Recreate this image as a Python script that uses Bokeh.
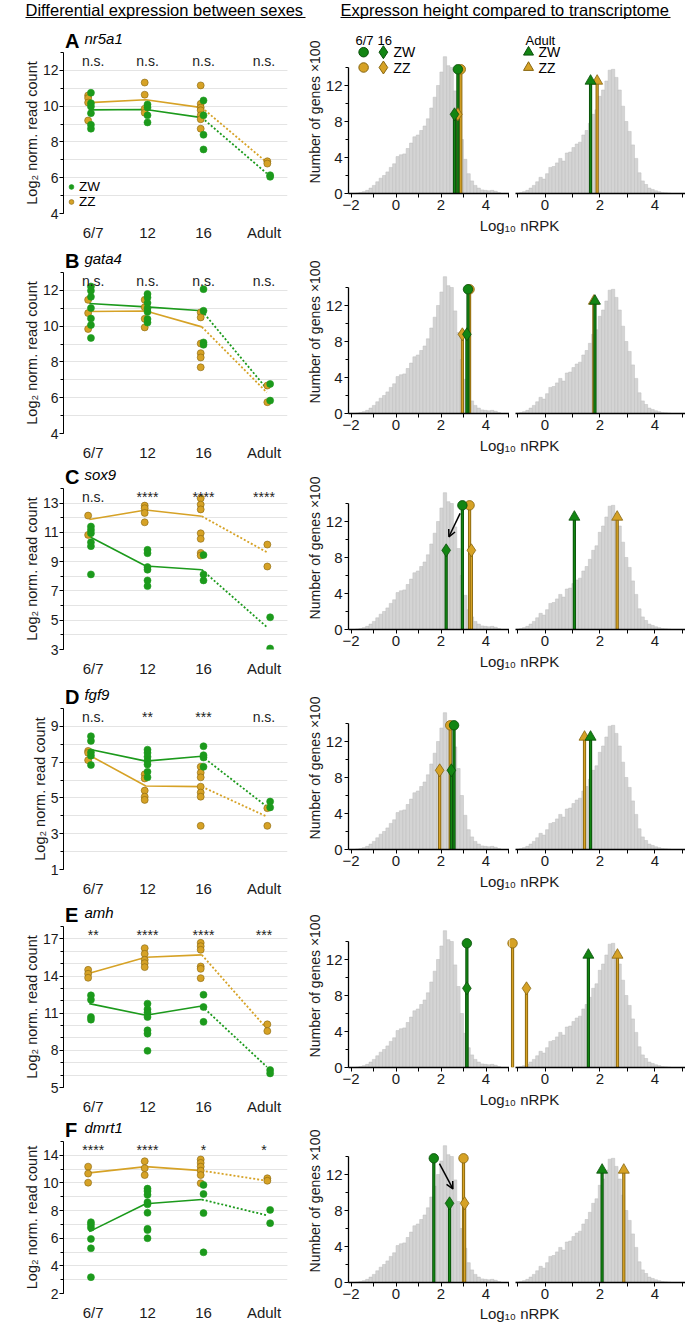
from bokeh.plotting import figure
from bokeh.layouts import row, column
from bokeh.models import FixedTicker, Label, Range1d, Legend, LegendItem, Arrow, OpenHead
from bokeh.core.properties import value
from bokeh.embed import file_html
from bokeh.resources import INLINE

FONT = "Liberation Sans"

# ---------------- data ----------------
stages = ["6/7", "12", "16", "Adult"]
genes = ["nr5a1", "gata4", "sox9", "fgf9", "amh", "dmrt1"]
letters = ["A", "B", "C", "D", "E", "F"]

nr5a1_ZW = [[10.75, 10.17, 9.98, 9.61, 8.96, 8.74], [10.1, 9.92, 9.49, 9.09], [10.32, 9.49, 8.4, 7.58], [6.14, 6.05]]
nr5a1_ZZ = [[10.6, 10.45, 10.2, 9.2], [11.32, 10.64, 9.86, 9.63], [11.16, 10.13, 9.92, 9.77, 9.49, 9.27, 8.74], [6.92, 6.79]]
nr5a1_ZW_mean = [9.79, 9.81, 9.36, 6.24]
nr5a1_ZZ_mean = [10.2, 10.36, 9.92, 6.86]
nr5a1_sig = ["n.s.", "n.s.", "n.s.", "n.s."]

gata4_ZW = [[12.22, 11.98, 11.64, 11.01, 10.43, 10.06, 9.34], [11.8, 11.6, 11.3, 11.0, 10.8, 10.4, 10.2], [12.07, 10.86, 9.09, 8.96], [6.77, 5.84]]
gata4_ZZ = [[11.47, 10.73, 9.84], [11.47, 11.06, 10.41, 9.93], [10.77, 10.49, 9.03, 8.49, 8.25, 7.7], [6.68, 5.75]]
gata4_ZW_mean = [11.27, 11.08, 10.86, 6.5]
gata4_ZZ_mean = [10.82, 10.85, 9.96, 6.3]
gata4_sig = ["n.s.", "n.s.", "n.s.", "n.s."]

sox9_ZW = [[11.4, 11.17, 10.94, 10.33, 10.06, 8.13], [9.81, 9.58, 8.63, 8.45, 7.72, 7.33], [9.46, 8.13, 7.72], [5.2, 3.07]]
sox9_ZZ = [[12.15, 10.83], [12.83, 12.65, 12.33, 11.69], [13.33, 12.9, 12.57, 10.94, 10.56, 9.6, 9.42], [10.17, 8.67]]
sox9_ZW_mean = [10.72, 8.70, 8.45, 4.54]
sox9_ZZ_mean = [11.88, 12.53, 12.1, 9.65]
sox9_sig = ["n.s.", "****", "****", "****"]

fgf9_ZW = [[8.45, 8.19, 7.55, 7.36, 6.84], [7.70, 7.52, 7.30, 7.08, 6.87, 6.46, 6.15], [7.89, 7.39, 7.26, 6.74], [4.8, 4.47]]
fgf9_ZZ = [[7.63, 7.52, 7.11], [6.32, 6.09, 5.41, 5.07, 4.89], [6.74, 6.41, 6.15, 5.63, 5.3, 5.07, 3.44], [4.43, 3.44]]
fgf9_ZW_mean = [7.72, 7.06, 7.33, 4.52]
fgf9_ZZ_mean = [7.39, 5.67, 5.63, 3.96]
fgf9_sig = ["n.s.", "**", "***", "n.s."]

amh_ZW = [[12.44, 12.09, 10.69, 10.48], [11.77, 11.32, 11.05, 10.69, 9.62, 9.35, 7.96], [12.49, 11.5, 10.3], [6.41, 6.14]]
amh_ZZ = [[14.5, 14.18, 13.86], [16.25, 15.79, 15.31, 15.04, 14.72], [16.68, 16.41, 16.12, 14.77, 14.58, 13.83], [10.1, 9.56]]
amh_ZW_mean = [11.77, 10.83, 11.58, 6.67]
amh_ZZ_mean = [14.23, 15.52, 15.71, 9.76]
amh_sig = ["**", "****", "****", "***"]

dmrt1_ZW = [[7.16, 6.98, 6.75, 5.95, 5.27, 3.18], [9.59, 9.41, 9.14, 8.61, 8.45, 7.84, 6.68, 6.59, 6.0], [9.86, 9.2, 7.82, 4.98], [8.05, 7.09]]
dmrt1_ZZ = [[11.18, 10.68, 10.02], [11.57, 11.07, 10.57], [11.7, 11.45, 11.18, 10.89, 10.57, 9.98], [10.34, 10.16]]
dmrt1_ZW_mean = [6.48, 8.5, 8.8, 7.66]
dmrt1_ZZ_mean = [10.73, 11.18, 10.89, 10.16]
dmrt1_sig = ["****", "****", "*", "*"]

# y-axis ranges and labelled ticks of the left panels
y_lo = [4, 4, 3, 1, 5, 2]
y_hi = [13, 13, 14, 10, 18, 13]
y_major = [[4, 6, 8, 10, 12], [4, 6, 8, 10, 12], [3, 5, 7, 9, 11, 13], [1, 3, 5, 7, 9], [5, 8, 11, 14, 17], [2, 4, 6, 8, 10, 12]]
y_overrides = [{}, {}, {}, {}, {}, {12: "14"}]

# transcriptome histograms (log10 nRPK, genes x100)
mid_bin_start = -1.8
mid_bin_width = 0.15
mid_counts = [0.05, 0.1, 0.2, 0.35, 0.6, 0.9, 1.3, 1.7, 2.0, 2.4, 2.9, 3.3, 4.1, 4.3, 4.4,
              5.0, 5.6, 6.3, 6.5, 7.0, 7.5, 8.3, 9.5, 10.7, 12.0, 13.5, 15.2, 14.2, 14.0, 11.4,
              9.0, 6.0, 3.8, 2.2, 1.4, 0.9, 0.6, 0.4, 0.35, 0.3, 0.35, 0.25, 0.1]
adult_bin_start = -1.06
adult_bin_width = 0.12
adult_counts = [0.05, 0.1, 0.2, 0.35, 0.6, 0.9, 1.3, 1.8, 1.6, 2.2, 2.9, 3.0, 3.4, 3.9, 3.6,
                4.5, 4.6, 5.1, 5.5, 5.7, 6.5, 7.0, 7.8, 8.8, 9.3, 10.8, 11.5, 12.5, 13.7, 13.8,
                12.9, 11.5, 9.7, 8.0, 6.9, 5.4, 3.9, 2.3, 1.4, 1.0, 0.6, 0.45, 0.3, 0.2, 0.1, 0.07, 0.05]

# gene expression (log10 nRPK) per gene, order A..F
lolli_67_ZW = [2.75, 3.2, 2.95, 2.58, 3.15, 1.68]
lolli_67_ZZ = [2.88, 3.27, 3.27, 2.41, 5.18, 3.0]
lolli_16_ZW = [2.6, 3.15, 2.23, 2.46, 3.15, 2.38]
lolli_16_ZZ = [2.75, 2.95, 3.35, 1.94, 5.8, 3.05]
lolli_ad_ZW = [1.66, 1.82, 1.07, 1.66, 1.58, 2.08]
lolli_ad_ZZ = [1.9, 1.78, 2.63, 1.44, 2.64, 2.87]
# arrows (from 6/7 to 16 ZW): x0, y0, x1, y1 ; None if absent
arrows = [None, None, (2.85, 12.9, 2.35, 10.3), None, None, (1.93, 13.2, 2.53, 10.4)]

# ---------------- style / layout ----------------
GREEN = "#1c9a1c"
GREEN_L = "#138513"
GREEN_D = "#0a4f0a"
GOLD = "#d6a226"
GOLD_D = "#86650f"
GRID = "#e4e4e4"
HIST_FILL = "#d4d4d4"
HIST_LINE = "#bcbcbc"
TXT = "#1a1a1a"

H_CIRC, H_DIAM, H_TRI = 13.8, 8.8, 12.5

PAGE_H = 1323
ROW_T = [30, 250, 466, 686, 904, 1119]
ROW_H = [ROW_T[k + 1] - ROW_T[k] for k in range(5)] + [PAGE_H - ROW_T[5]]
LBL_PRE = 2          # letter strip starts this far above the row top
LBL_H = 22 + LBL_PRE
HDR_H = ROW_T[0] - LBL_PRE
LEFT_FH = [161, 161, 161, 161, 161, 154]
HIST_H = [186, 186, 186, 186, 186, 185]
HIST_FH = [163, 163, 163, 163, 163, 163]

stage_x = [0.46, 1.47, 2.47, 3.66]
tick_x = [0.53, 1.5, 2.5, 3.58]
ZZ_OFF, ZW_OFF = -0.02, 0.03

LEFT_W = 300
MID_PX = 22.5      # px per unit
MID_X0 = -47.5 / MID_PX
MID_X1 = 113.5 / MID_PX
MID_W = 209
R_W = 176
R_PX = 27.45
R_X0 = -35.5 / R_PX
R_X1 = 140.5 / R_PX
TOTAL_W = LEFT_W + MID_W + R_W


def base(p):
    p.outline_line_color = None
    p.background_fill_color = "white"
    p.border_fill_color = "white"


def blank(w, h, xr, yr):
    p = figure(width=w, height=h, x_range=xr, y_range=yr, x_axis_location=None,
               y_axis_location=None, min_border=0, toolbar_location=None, title=None,
               output_backend="svg")
    base(p)
    p.grid.visible = False
    return p


def left_panel(i, zw, zz, zw_m, zz_m, sig):
    if i < 5:
        PH = ROW_H[i] - LBL_H
    else:
        PH = ROW_H[i] - 22
    fh = LEFT_FH[i]
    p = figure(width=LEFT_W, height=PH, x_range=Range1d(0, 4), y_range=Range1d(y_lo[i], y_hi[i]),
               min_border_left=63, min_border_right=13, min_border_top=0,
               min_border_bottom=PH - fh, toolbar_location=None, title=None,
               output_backend="svg")
    base(p)
    minors = list(range(y_lo[i], y_hi[i] + 1))
    tk = FixedTicker(ticks=y_major[i], minor_ticks=minors)
    ax = p.yaxis[0]
    ax.ticker = tk
    p.ygrid.ticker = tk
    ax.major_label_overrides = y_overrides[i]
    ax.axis_label = "Log₂ norm. read count"
    ax.axis_label_text_font = FONT
    ax.axis_label_text_font_size = "14.5px"
    ax.axis_label_text_font_style = "normal"
    ax.axis_label_text_color = TXT
    ax.axis_label_standoff = 0
    ax.major_label_text_font = FONT
    ax.major_label_text_font_size = "14px"
    ax.major_label_text_color = TXT
    ax.major_label_standoff = 1
    ax.major_tick_out, ax.major_tick_in = 4, 0
    ax.minor_tick_out, ax.minor_tick_in = 3, 0
    ax.axis_line_color = "black"
    p.ygrid.grid_line_color = GRID
    p.ygrid.minor_grid_line_color = GRID
    p.xgrid.grid_line_color = None

    xa = p.xaxis[0]
    xa.ticker = FixedTicker(ticks=tick_x)
    xa.major_label_overrides = {tick_x[k]: stages[k] for k in range(4)}
    xa.axis_line_color = None
    xa.major_tick_line_color = None
    xa.minor_tick_line_color = None
    xa.major_label_text_font = FONT
    xa.major_label_text_font_size = "15px"
    xa.major_label_text_color = TXT
    xa.major_label_standoff = 4

    # mean lines
    end_x = stage_x[3] - 0.03
    for m, col in ((zz_m, GOLD), (zw_m, GREEN)):
        p.line(stage_x[:3], m[:3], line_color=col, line_width=1.6)
        p.line([stage_x[2], end_x], [m[2], m[3]], line_color=col, line_width=1.8, line_dash="2 2")

    def pts(groups, off):
        xs, ys = [], []
        for k, g in enumerate(groups):
            for v in g:
                xs.append(stage_x[k] + off)
                ys.append(v)
        return xs, ys

    x1, y1 = pts(zz, ZZ_OFF)
    r_zz = p.scatter(x1, y1, size=7, fill_color=GOLD, line_color=GOLD_D, line_width=0.6)
    x2, y2 = pts(zw, ZW_OFF)
    r_zw = p.scatter(x2, y2, size=7, fill_color=GREEN, line_color=GREEN, line_width=0.6)

    for k in range(4):
        p.add_layout(Label(x=tick_x[k], y=y_hi[i], y_offset=-8, x_units="data", y_units="data",
                           text=sig[k], text_align="center", text_baseline="middle",
                           text_font=FONT, text_font_size="14px", text_color="#222222"))
    if i == 0:
        leg = Legend(items=[LegendItem(label="ZW", renderers=[r_zw]),
                            LegendItem(label="ZZ", renderers=[r_zz])],
                     location=(2, 4), orientation="vertical", padding=0, spacing=0,
                     margin=0, glyph_width=12, glyph_height=13, label_standoff=2,
                     label_text_font=FONT, label_text_font_size="13.5px",
                     label_text_color="black",
                     background_fill_alpha=0, border_line_alpha=0)
        p.add_layout(leg)

    lb = blank(LEFT_W, LBL_H, Range1d(0, LEFT_W), Range1d(LBL_H, 0))
    lb.text(x=[2], y=[1.5], text=[letters[i]], text_font=value(FONT), text_font_size="20px",
            text_font_style="bold", text_baseline="top", text_color="black")
    lb.text(x=[28], y=[1.0], text=[genes[i]], text_font=value(FONT), text_font_size="15px",
            text_font_style="italic", text_baseline="top", text_color="black")
    return [lb, p]


def hist_axis_style(ax):
    ax.axis_line_color = "black"
    ax.axis_line_width = 1.3
    ax.major_tick_line_color = "black"
    ax.minor_tick_line_color = "black"
    ax.major_tick_out, ax.major_tick_in = 4, 0
    ax.minor_tick_out, ax.minor_tick_in = 3, 0
    ax.major_label_text_font = FONT
    ax.major_label_text_font_size = "15px"
    ax.major_label_text_color = TXT
    ax.major_label_standoff = 2


def draw_mid_lollis(p, i, **kw):
    segs = [(lolli_67_ZZ[i], H_CIRC, GOLD, GOLD_D), (lolli_16_ZZ[i], H_DIAM, GOLD, GOLD_D),
            (lolli_67_ZW[i], H_CIRC, GREEN_L, GREEN_D), (lolli_16_ZW[i], H_DIAM, GREEN_L, GREEN_D)]
    for x, h, c, d in segs:
        p.segment(x0=[x], y0=[0], x1=[x], y1=[h], line_color=d, line_width=3.2, **kw)
        p.segment(x0=[x], y0=[0], x1=[x], y1=[h], line_color=c, line_width=1.4, **kw)
    p.scatter([lolli_16_ZZ[i]], [H_DIAM], marker="diamond", size=13, fill_color=GOLD, line_color=GOLD_D, line_width=0.8, **kw)
    p.scatter([lolli_16_ZW[i]], [H_DIAM], marker="diamond", size=13, fill_color=GREEN_L, line_color=GREEN_D, line_width=0.8, **kw)
    p.scatter([lolli_67_ZZ[i]], [H_CIRC], marker="circle", size=9.5, fill_color=GOLD, line_color=GOLD_D, line_width=0.8, **kw)
    p.scatter([lolli_67_ZW[i]], [H_CIRC], marker="circle", size=9.5, fill_color=GREEN_L, line_color=GREEN_D, line_width=0.8, **kw)


def hist_panels(i):
    H, fh = HIST_H[i], HIST_FH[i]
    ymax = fh / 9.0
    m = figure(width=MID_W, height=H, x_range=Range1d(MID_X0, MID_X1), y_range=Range1d(0, ymax),
               min_border_left=48, min_border_right=0, min_border_top=0, min_border_bottom=H - fh,
               toolbar_location=None, title=None, output_backend="svg")
    base(m)
    m.grid.visible = False
    centers = [mid_bin_start + mid_bin_width * (k + 0.5) for k in range(len(mid_counts))]
    m.vbar(x=centers, width=mid_bin_width, top=mid_counts, bottom=0,
           fill_color=HIST_FILL, line_color=HIST_LINE, line_width=0.5)
    draw_mid_lollis(m, i)
    if arrows[i] is not None:
        x0, y0, x1, y1 = arrows[i]
        m.add_layout(Arrow(x_start=x0, y_start=y0, x_end=x1, y_end=y1, line_color="black",
                           line_width=1.5, end=OpenHead(size=7, line_width=1.5, line_color="black")))
    xa = m.xaxis[0]
    hist_axis_style(xa)
    xa.ticker = FixedTicker(ticks=[-2, -1, 0, 1, 2, 3, 4, 5])
    xa.major_label_overrides = {-1: "", 1: "", 3: "", 5: ""}
    ya = m.yaxis[0]
    hist_axis_style(ya)
    ya.ticker = FixedTicker(ticks=[0, 4, 8, 12], minor_ticks=[2, 6, 10, 14])
    ya.bounds = (0, 14)
    ya.axis_label = "Number of genes ×100"
    ya.axis_label_text_font = FONT
    ya.axis_label_text_font_size = "14px"
    ya.axis_label_text_font_style = "normal"
    ya.axis_label_text_color = TXT
    ya.axis_label_standoff = 0

    r = figure(width=R_W, height=H, x_range=Range1d(R_X0, R_X1), y_range=Range1d(0, ymax),
               y_axis_location=None, min_border_left=0, min_border_right=0, min_border_top=0,
               min_border_bottom=H - fh, toolbar_location=None, title=None, output_backend="svg")
    base(r)
    r.grid.visible = False
    r.extra_x_ranges = {"mid": Range1d(MID_X1, MID_X1 + R_W / MID_PX)}
    centers = [adult_bin_start + adult_bin_width * (k + 0.5) for k in range(len(adult_counts))]
    r.vbar(x=centers, width=adult_bin_width, top=adult_counts, bottom=0,
           fill_color=HIST_FILL, line_color=HIST_LINE, line_width=0.5)
    for x, c, d in ((lolli_ad_ZZ[i], GOLD, GOLD_D), (lolli_ad_ZW[i], GREEN_L, GREEN_D)):
        r.segment(x0=[x], y0=[0], x1=[x], y1=[H_TRI], line_color=d, line_width=3.2)
        r.segment(x0=[x], y0=[0], x1=[x], y1=[H_TRI], line_color=c, line_width=1.4)
        r.scatter([x], [H_TRI], marker="triangle", size=11, fill_color=c, line_color=d, line_width=0.8)
    draw_mid_lollis(r, i, x_range_name="mid")
    ra = r.xaxis[0]
    hist_axis_style(ra)
    ra.ticker = FixedTicker(ticks=[-1, 0, 1, 2, 3, 4, 5])
    ra.major_label_overrides = {-1: "", 1: "", 3: "", 5: ""}
    ra.bounds = (-1.07, R_X1)

    if i == 0:
        # legends
        m.text(x=[-1.8, -0.82], y=[17.0, 17.0], text=["6/7", "16"], text_font=value(FONT),
               text_font_size="13px", text_baseline="middle", text_color="black")
        m.scatter([-1.44], [15.7], marker="circle", size=9.5, fill_color=GREEN_L, line_color=GREEN_D)
        m.scatter([-0.56], [15.7], marker="diamond", size=13, fill_color=GREEN_L, line_color=GREEN_D)
        m.scatter([-1.44], [14.0], marker="circle", size=9.5, fill_color=GOLD, line_color=GOLD_D)
        m.scatter([-0.56], [14.0], marker="diamond", size=13, fill_color=GOLD, line_color=GOLD_D)
        m.text(x=[-0.11, -0.11], y=[15.7, 14.0], text=["ZW", "ZZ"], text_font=value(FONT),
               text_font_size="14px", text_baseline="middle", text_color="black")
        r.text(x=[-0.71], y=[17.0], text=["Adult"], text_font=value(FONT),
               text_font_size="13px", text_baseline="middle", text_color="black")
        r.scatter([-0.6], [15.7], marker="triangle", size=10, fill_color=GREEN_L, line_color=GREEN_D)
        r.scatter([-0.6], [14.0], marker="triangle", size=10, fill_color=GOLD, line_color=GOLD_D)
        r.text(x=[-0.24, -0.24], y=[15.7, 14.0], text=["ZW", "ZZ"], text_font=value(FONT),
               text_font_size="14px", text_baseline="middle", text_color="black")

    xh = ROW_H[i] - H
    xl = blank(MID_W + R_W, xh, Range1d(LEFT_W, TOTAL_W), Range1d(xh, 0))
    xl.text(x=[519], y=[0], text=["Log₁₀ nRPK"], text_font=value(FONT), text_font_size="15px",
            text_align="center", text_baseline="top", text_color=TXT)
    return [row(m, r), xl]


# header
hdr = blank(TOTAL_W, HDR_H, Range1d(0, TOTAL_W), Range1d(HDR_H, 0))
hdr.text(x=[25, 340], y=[0, 0],
         text=["Differential expression between sexes", "Expresson height compared to transcriptome"],
         text_font=value(FONT), text_font_size="16.5px", text_baseline="top", text_color="black")
hdr.segment(x0=[25, 340], y0=[17, 17], x1=[305, 670], y1=[17, 17], line_color="black", line_width=1.2)

data = [
    (nr5a1_ZW, nr5a1_ZZ, nr5a1_ZW_mean, nr5a1_ZZ_mean, nr5a1_sig),
    (gata4_ZW, gata4_ZZ, gata4_ZW_mean, gata4_ZZ_mean, gata4_sig),
    (sox9_ZW, sox9_ZZ, sox9_ZW_mean, sox9_ZZ_mean, sox9_sig),
    (fgf9_ZW, fgf9_ZZ, fgf9_ZW_mean, fgf9_ZZ_mean, fgf9_sig),
    (amh_ZW, amh_ZZ, amh_ZW_mean, amh_ZZ_mean, amh_sig),
    (dmrt1_ZW, dmrt1_ZZ, dmrt1_ZW_mean, dmrt1_ZZ_mean, dmrt1_sig),
]

left_items = []
right_items = [blank(MID_W + R_W, LBL_PRE, Range1d(0, 1), Range1d(0, 1))]
for i, d in enumerate(data):
    left_items.extend(left_panel(i, *d))
    right_items.extend(hist_panels(i))

layout = column(hdr, row(column(*left_items), column(*right_items)))
open("out.html", "w").write(file_html(layout, INLINE))
